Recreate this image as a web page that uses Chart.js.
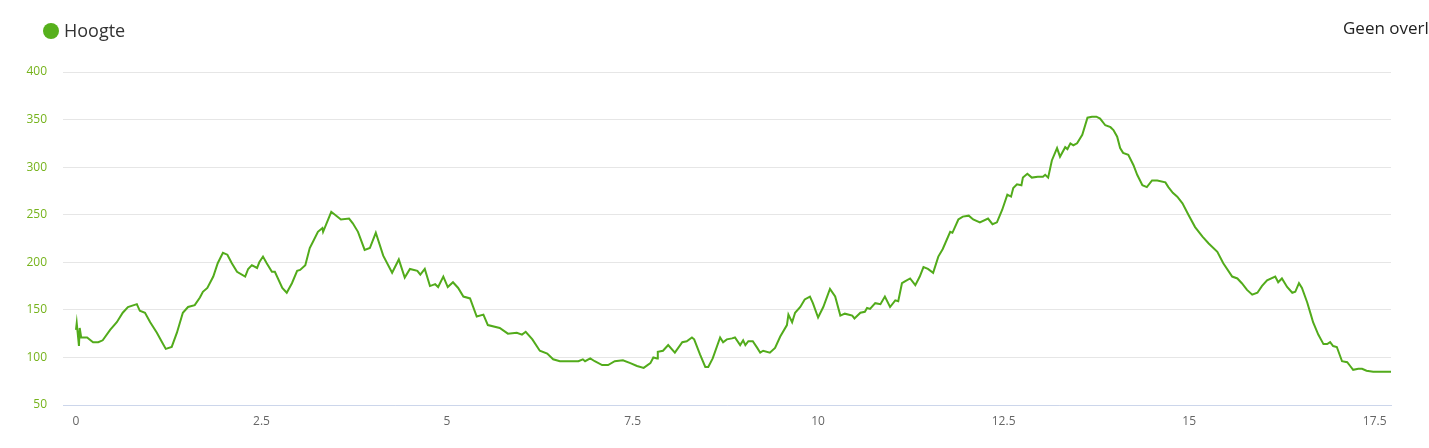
<!DOCTYPE html>
<html>
<head>
<meta charset="utf-8">
<script src="https://cdn.jsdelivr.net/npm/chart.js@4/dist/chart.umd.min.js"></script>
<style>
  html, body { margin: 0; padding: 0; background: #fff; overflow: hidden; }
  #wrap { position: relative; width: 1429px; height: 448px; }
  #legend { position: absolute; left: 43px; top: 18px; font: 18px "Open Sans", sans-serif; color: #333; white-space: nowrap; }
  #legend .dot { display: inline-block; width: 16px; height: 16px; border-radius: 50%; background: #56b01c; vertical-align: -2px; margin-right: 5px; }
  #overlay { position: absolute; left: 1343px; top: 16px; font: 17px "Open Sans", sans-serif; color: #222; white-space: nowrap; }
</style>
</head>
<body>
<div id="wrap">
  <canvas id="elevation" width="1429" height="448"></canvas>
  <div id="legend"><span class="dot"></span>Hoogte</div>
  <div id="overlay">Geen overlay</div>
</div>
<script>
// afstand in km
const distances = [
  0, 0.01, 0.04, 0.05, 0.07, 0.15, 0.23, 0.30, 0.36, 0.46, 0.55, 0.63, 0.70, 0.82, 0.86, 0.93,
  1.00, 1.09, 1.16, 1.21, 1.29, 1.36, 1.44, 1.51, 1.60, 1.67, 1.71, 1.77, 1.85, 1.91, 1.98,
  2.04, 2.10, 2.17, 2.28, 2.32, 2.37, 2.44, 2.47, 2.52, 2.57, 2.64, 2.68, 2.78, 2.84, 2.91, 2.98,
  3.02, 3.09, 3.15, 3.19, 3.26, 3.32, 3.33, 3.44, 3.49, 3.57, 3.68, 3.73, 3.80, 3.89, 3.96,
  4.04, 4.14, 4.26, 4.35, 4.43, 4.50, 4.60, 4.64, 4.70, 4.77, 4.84, 4.88, 4.95,
  5.01, 5.08, 5.15, 5.22, 5.31, 5.40, 5.49, 5.55, 5.71, 5.82, 5.94,
  6.01, 6.06, 6.15, 6.25, 6.35, 6.43, 6.52, 6.77, 6.83, 6.86, 6.93, 6.99,
  7.09, 7.17, 7.26, 7.37, 7.47, 7.56, 7.65, 7.74, 7.78, 7.83, 7.84, 7.91, 7.98,
  8.07, 8.17, 8.23, 8.30, 8.33, 8.41, 8.48, 8.52, 8.58, 8.68, 8.72, 8.77, 8.84, 8.88, 8.95, 8.99,
  9.02, 9.06, 9.12, 9.18, 9.22, 9.26, 9.35, 9.42, 9.49, 9.58, 9.60, 9.65, 9.69, 9.76, 9.82, 9.89, 9.93,
  10.00, 10.07, 10.16, 10.23, 10.30, 10.36, 10.46, 10.49, 10.57, 10.63, 10.66, 10.70, 10.77, 10.84, 10.90, 10.97,
  11.04, 11.08, 11.13, 11.17, 11.24, 11.31, 11.37, 11.42, 11.48, 11.55, 11.62, 11.68, 11.78, 11.81, 11.89, 11.95,
  12.03, 12.09, 12.18, 12.29, 12.35, 12.41, 12.48, 12.55, 12.60, 12.63, 12.68, 12.74, 12.76, 12.82, 12.88, 12.96,
  13.03, 13.06, 13.10, 13.15, 13.22, 13.26, 13.33, 13.36, 13.40, 13.44, 13.49, 13.56, 13.63, 13.69, 13.75, 13.80, 13.87, 13.94, 13.98,
  14.03, 14.07, 14.11, 14.18, 14.25, 14.30, 14.37, 14.43, 14.50, 14.57, 14.68, 14.72, 14.78, 14.84, 14.91, 14.99,
  15.08, 15.18, 15.26, 15.38, 15.46, 15.58, 15.65, 15.71, 15.78, 15.85, 15.92, 15.98,
  16.05, 16.16, 16.20, 16.25, 16.32, 16.39, 16.43, 16.48, 16.52, 16.59, 16.64, 16.67, 16.74, 16.81, 16.86, 16.90, 16.94, 16.99,
  17.06, 17.13, 17.17, 17.21, 17.28, 17.33, 17.39, 17.48, 17.61, 17.72
];

// hoogte in m
const heights = [
  129, 136, 112, 131, 121, 121, 116, 116, 118, 129, 137, 147, 153, 156, 149, 147,
  137, 126, 116, 109, 111, 126, 147, 153, 155, 163, 169, 173, 185, 199, 210,
  208, 199, 190, 185, 193, 197, 194, 200, 206, 199, 190, 190, 173, 168, 178, 191,
  192, 197, 215, 221, 232, 236, 232, 253, 250, 245, 246, 241, 232, 213, 215,
  231, 207, 189, 203, 184, 193, 191, 187, 193, 175, 177, 174, 185,
  174, 179, 173, 164, 162, 143, 145, 134, 131, 125, 126,
  124, 127, 119, 107, 104, 98, 96, 96, 98, 96, 99, 96,
  92, 92, 96, 97, 94, 91, 89, 94, 100, 99, 106, 107, 113,
  105, 116, 117, 121, 119, 103, 90, 90, 99, 121, 116, 119, 120, 121, 113, 118,
  113, 117, 117, 110, 105, 107, 105, 110, 122, 134, 145, 137, 147, 153, 161, 164, 157,
  142, 153, 172, 164, 144, 146, 144, 141, 147, 148, 152, 151, 157, 156, 164, 153,
  160, 159, 178, 180, 183, 176, 185, 195, 193, 189, 206, 214, 232, 231, 245, 248,
  249, 245, 242, 246, 240, 242, 255, 271, 269, 278, 282, 281, 289, 293, 289, 290,
  290, 292, 289, 307, 320, 311, 321, 319, 325, 323, 325, 334, 352, 353, 353, 351, 344, 342, 339,
  332, 320, 315, 313, 302, 292, 281, 279, 286, 286, 284, 279, 273, 269, 262, 250,
  237, 227, 220, 211, 199, 185, 183, 178, 171, 166, 168, 175,
  181, 185, 179, 183, 174, 168, 169, 178, 173, 158, 145, 137, 124, 114, 114, 116, 112, 111,
  96, 95, 91, 87, 88, 88, 86, 85, 85, 85
];

const xTicks = [0, 2.5, 5, 7.5, 10, 12.5, 15, 17.5];
const yTicks = [50, 100, 150, 200, 250, 300, 350, 400];

const ctx = document.getElementById('elevation').getContext('2d');

new Chart(ctx, {
  type: 'line',
  data: {
    datasets: [
      {
        label: 'Hoogte',
        data: distances.map((d, i) => ({ x: d, y: heights[i] })),
        borderColor: '#52ab1b',
        borderWidth: 2,
        pointRadius: 0,
        tension: 0,
        fill: false,
      },
    ],
  },
  options: {
    responsive: false,
    animation: false,
    layout: {
      padding: { top: 72, right: 38, bottom: 0, left: 0 },
    },
    plugins: {
      legend: { display: false },
      tooltip: { enabled: false },
    },
    scales: {
      x: {
        type: 'linear',
        min: -0.175,
        max: 17.72,
        afterBuildTicks: (scale) => {
          scale.ticks = xTicks.map((v) => ({ value: v }));
        },
        afterFit: (scale) => {
          scale.height = 43;
        },
        grid: { display: false, drawTicks: false },
        border: { display: true, color: '#ccd6eb', width: 1 },
        ticks: {
          padding: 9,
          color: '#666666',
          font: { size: 12, family: 'Open Sans' },
          callback: (v) => String(v),
        },
      },
      y: {
        min: 50,
        max: 400,
        afterBuildTicks: (scale) => {
          scale.ticks = yTicks.map((v) => ({ value: v }));
        },
        afterFit: (scale) => {
          scale.width = 63;
        },
        grid: { color: '#e6e6e6', drawTicks: false },
        border: { display: false },
        ticks: {
          padding: 16,
          color: '#76b31c',
          font: { size: 12, family: 'Open Sans' },
        },
      },
    },
  },
});
</script>
</body>
</html>
